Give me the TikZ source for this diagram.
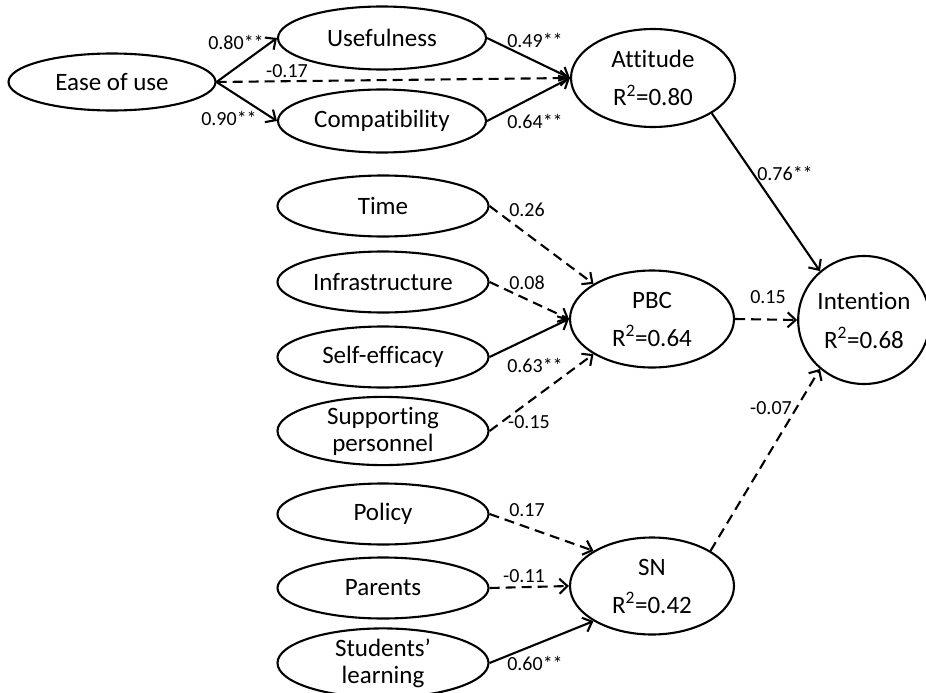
\documentclass[tikz,border=0pt]{standalone}
\usepackage{fontspec}
\setmainfont{Carlito}[Ligatures={NoCommon}]
\usetikzlibrary{shapes.geometric,arrows.meta}
\begin{document}
\begin{tikzpicture}[x=1pt,y=-1pt,
  lat/.style={ellipse,draw,line width=2.1pt,inner sep=0pt,align=center,
    font=\fontsize{25}{28}\selectfont},
  side/.style={lat,minimum width=211pt,minimum height=61pt},
  twoline/.style={font=\fontsize{25}{27}\selectfont},
  coef/.style={inner sep=0pt,font=\fontsize{20}{22}\selectfont},
  sig/.style={line width=2.1pt,-{Straight Barb[length=8pt,width=15pt,line width=2.1pt]}},
  ns/.style={sig,dash pattern=on 10pt off 6pt}]
\useasboundingbox (0,0) rectangle (926,693);
% nodes
\node[lat,minimum width=207pt,minimum height=57pt] (ease) at (112,82) {Ease of use};
\node[lat,minimum width=208pt,minimum height=63pt] (use) at (382,38) {Usefulness};
\node[lat,minimum width=208pt,minimum height=63pt] (comp) at (382,121) {Compatibility};
\node[lat,minimum width=164pt,minimum height=98pt] (att) at (653,78) {Attitude\\[10pt]R\textsuperscript{2}=0.80};
\node[side] (time) at (383,206) {Time};
\node[side] (infra) at (383,282) {Infrastructure};
\node[side] (self) at (383,357) {Self-efficacy};
\node[side,twoline] (supp) at (383,431) {Supporting\\personnel};
\node[side] (pol) at (383,514) {Policy};
\node[side] (par) at (383,588) {Parents};
\node[side,twoline] (stu) at (383,663) {Students’\\learning};
\node[lat,minimum width=164pt,minimum height=97pt] (pbc) at (652,319) {PBC\\[10pt]R\textsuperscript{2}=0.64};
\node[lat,minimum width=164pt,minimum height=97pt] (sn) at (652,586) {SN\\[10pt]R\textsuperscript{2}=0.42};
\node[lat,minimum width=122pt,minimum height=128pt] (int) at (864,320) {Intention\\[11pt]R\textsuperscript{2}=0.68};
% connectors
\draw[sig] (ease.east) -- (use.west);
\draw[sig] (ease.east) -- (comp.west);
\draw[ns] (ease.east) -- (att.west);
\draw[sig] (use.east) -- (att.west);
\draw[sig] (comp.east) -- (att.west);
\draw[sig] (att.-31) -- (int.132);
\draw[ns] (time.east) -- (pbc.149);
\draw[ns] (infra.east) -- (pbc.west);
\draw[sig] (self.east) -- (pbc.west);
\draw[ns] (supp.east) -- (pbc.211);
\draw[ns] (pbc.east) -- (int.west);
\draw[ns] (pol.east) -- (sn.149);
\draw[ns] (par.east) -- (sn.west);
\draw[sig] (stu.east) -- (sn.211);
\draw[ns] (sn.31) -- (int.228);
% coefficients
\node[coef] (c1) at (236,42) {0.80**};
\node[coef] (c2) at (287,71) {-0.17};
\node[coef] (c3) at (229,118) {0.90**};
\node[coef] (c4) at (535,40) {0.49**};
\node[coef] (c5) at (535,121) {0.64**};
\node[coef] (c6) at (785,173) {0.76**};
\node[coef] (c7) at (527,210) {0.26};
\node[coef] (c8) at (527,283) {0.08};
\node[coef] (c9) at (535,365) {0.63**};
\node[coef] (c10) at (529,422) {-0.15};
\node[coef] (c11) at (768,297) {0.15};
\node[coef] (c12) at (771,408) {-0.07};
\node[coef] (c13) at (527,510) {0.17};
\node[coef] (c14) at (524,576) {-0.11};
\node[coef] (c15) at (535,663) {0.60**};
\end{tikzpicture}
\end{document}
